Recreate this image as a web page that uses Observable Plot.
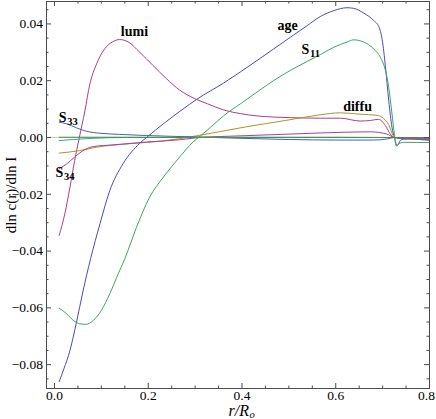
<!DOCTYPE html>
<html>
<head>
<meta charset="utf-8">
<script src="https://cdn.jsdelivr.net/npm/d3@7"></script>
<script src="https://cdn.jsdelivr.net/npm/@observablehq/plot@0.6"></script>
<style>
  html, body { margin: 0; padding: 0; background: #fff; }
  #chart { width: 436px; height: 419px; }
  #chart svg text { font-family: "Liberation Serif", "Times New Roman", serif; }
</style>
</head>
<body>
<div id="chart"></div>
<script>
// ---- data (r/R_o, dln c(r)/dln I) ----
const age = [[0.010,-0.0860],[0.020,-0.0815],[0.033,-0.0750],[0.047,-0.0650],[0.061,-0.0540],[0.077,-0.0427],[0.097,-0.0304],[0.118,-0.0187],[0.146,-0.0093],[0.182,-0.0020],[0.200,0.0005],[0.232,0.0048],[0.274,0.0100],[0.303,0.0134],[0.361,0.0192],[0.432,0.0271],[0.503,0.0353],[0.539,0.0394],[0.567,0.0426],[0.596,0.0447],[0.624,0.0457],[0.638,0.0455],[0.660,0.0438],[0.681,0.0412],[0.692,0.0390],[0.699,0.0345],[0.706,0.0250],[0.713,0.0130],[0.720,0.0036],[0.725,0.0000],[0.731,-0.0028],[0.738,-0.0010],[0.745,-0.0006],[0.800,-0.0004]];
const lumi = [[0.010,-0.0345],[0.022,-0.0269],[0.033,-0.0175],[0.043,-0.0081],[0.053,0.0000],[0.065,0.0095],[0.075,0.0185],[0.090,0.0260],[0.107,0.0312],[0.125,0.0338],[0.139,0.0345],[0.157,0.0337],[0.182,0.0300],[0.210,0.0254],[0.239,0.0207],[0.267,0.0167],[0.299,0.0137],[0.326,0.0119],[0.361,0.0097],[0.397,0.0084],[0.432,0.0076],[0.503,0.0070],[0.567,0.0068],[0.610,0.0068],[0.652,0.0058],[0.674,0.0060],[0.691,0.0064],[0.706,0.0042],[0.716,0.0013],[0.725,0.0000],[0.740,-0.0002],[0.800,-0.0010]];
const diffu = [[0.010,-0.0055],[0.054,-0.0046],[0.090,-0.0034],[0.160,-0.0022],[0.232,-0.0012],[0.303,0.0006],[0.400,0.0035],[0.500,0.0062],[0.567,0.0080],[0.610,0.0087],[0.652,0.0082],[0.688,0.0078],[0.702,0.0067],[0.713,0.0045],[0.722,0.0008],[0.725,0.0000],[0.740,-0.0003],[0.800,-0.0006]];
const s11 = [[0.010,-0.0601],[0.026,-0.0621],[0.040,-0.0644],[0.054,-0.0656],[0.067,-0.0658],[0.083,-0.0644],[0.100,-0.0609],[0.118,-0.0550],[0.136,-0.0480],[0.150,-0.0427],[0.175,-0.0316],[0.203,-0.0210],[0.232,-0.0140],[0.267,-0.0069],[0.296,-0.0015],[0.311,0.0005],[0.333,0.0036],[0.361,0.0077],[0.397,0.0119],[0.432,0.0160],[0.468,0.0201],[0.503,0.0236],[0.539,0.0268],[0.567,0.0292],[0.596,0.0318],[0.624,0.0336],[0.638,0.0344],[0.660,0.0336],[0.681,0.0312],[0.695,0.0283],[0.706,0.0236],[0.713,0.0177],[0.720,0.0083],[0.725,0.0013],[0.729,-0.0030],[0.734,-0.0022],[0.745,-0.0017],[0.800,-0.0018]];
const s33 = [[0.010,0.0054],[0.026,0.0048],[0.047,0.0034],[0.068,0.0022],[0.097,0.0015],[0.139,0.0011],[0.196,0.0007],[0.300,0.0002],[0.400,-0.0003],[0.500,-0.0007],[0.600,-0.0009],[0.680,-0.0009],[0.710,-0.0005],[0.725,0.0000],[0.740,-0.0003],[0.800,-0.0003]];
const s34 = [[0.010,-0.0110],[0.026,-0.0093],[0.043,-0.0069],[0.061,-0.0046],[0.083,-0.0032],[0.125,-0.0026],[0.196,-0.0016],[0.267,-0.0008],[0.303,-0.0001],[0.400,0.0006],[0.500,0.0012],[0.567,0.0016],[0.674,0.0020],[0.709,0.0012],[0.725,0.0000],[0.740,-0.0002],[0.800,-0.0008]];
const teal = [[0.010,-0.0011],[0.040,-0.0007],[0.080,-0.0003],[0.150,0.0000],[0.400,0.0000],[0.700,0.0000],[0.725,0.0000],[0.800,-0.0002]];
const flat = [[0.010,0.0001],[0.300,0.0001],[0.600,0.0001],[0.725,0.0000],[0.800,0.0000]];

const series = [
  {name: "age",   data: age,   color: "#4b4bb8"},
  {name: "lumi",  data: lumi,  color: "#ad3f80"},
  {name: "diffu", data: diffu, color: "#a8952e"},
  {name: "S11",   data: s11,   color: "#3fa55e"},
  {name: "S33",   data: s33,   color: "#3f66ad"},
  {name: "S34",   data: s34,   color: "#a63f9e"},
  {name: "teal",  data: teal,  color: "#3fa398"},
  {name: "flat",  data: flat,  color: "#4a8f3d"}
];

// curve labels (data coordinates)
const labels = [
  {text: "lumi",  r: 0.1706, v: 0.0357},
  {text: "age",   r: 0.4975, v: 0.0379},
  {text: "diffu", r: 0.6465, v: 0.0092}
];
const sLabels = [
  {main: "S", sub: "11", r: 0.527, v: 0.0294},
  {main: "S", sub: "33", r: 0.009, v: 0.0055},
  {main: "S", sub: "34", r: 0.002, v: -0.0140}
];

// ticks
const xMajor = [0, 0.2, 0.4, 0.6, 0.8];
const xLabelsInner = [0, 0.2, 0.4, 0.6];
const xLabelsEdge = [0.8];
const xMinor = [0.05, 0.1, 0.15, 0.25, 0.3, 0.35, 0.45, 0.5, 0.55, 0.65, 0.7, 0.75];
const yMajor = [-0.08, -0.06, -0.04, -0.02, 0, 0.02, 0.04];
const yMinor = [-0.085, -0.075, -0.07, -0.065, -0.055, -0.05, -0.045, -0.035, -0.03, -0.025, -0.015, -0.01, -0.005, 0.005, 0.01, 0.015, 0.025, 0.03, 0.035, 0.045];

const FONT = "Liberation Serif";
const W = 436, H = 419, mL = 46, mR = 7, mT = 1, mB = 31;
const ph = H - mT - mB, pw = W - mL - mR;
const frameColor = "#4a4a4a";
const fmtY = d => (d < 0 ? "\u2212" : "") + Math.abs(d).toFixed(2);
const fmtX = d => d.toFixed(1);

const marks = [
  Plot.ruleY([0], {stroke: "#c8c8c8", strokeWidth: 1}),
  ...series.map(s => Plot.line(s.data, {x: d => d[0], y: d => d[1], stroke: s.color, strokeWidth: 1, curve: "monotone-x"})),
  // inward ticks on all four sides
  Plot.ruleX(xMajor, {x: d => d, insetTop: ph - 5, stroke: frameColor}),
  Plot.ruleX(xMajor, {x: d => d, insetBottom: ph - 5, stroke: frameColor}),
  Plot.ruleX(xMinor, {x: d => d, insetTop: ph - 2.5, stroke: frameColor}),
  Plot.ruleX(xMinor, {x: d => d, insetBottom: ph - 2.5, stroke: frameColor}),
  Plot.ruleY(yMajor, {y: d => d, insetRight: pw - 5, stroke: frameColor}),
  Plot.ruleY(yMajor, {y: d => d, insetLeft: pw - 5, stroke: frameColor}),
  Plot.ruleY(yMinor, {y: d => d, insetRight: pw - 2.5, stroke: frameColor}),
  Plot.ruleY(yMinor, {y: d => d, insetLeft: pw - 2.5, stroke: frameColor}),
  Plot.frame({stroke: frameColor, strokeWidth: 1}),
  Plot.axisX({ticks: xLabelsInner, tickSize: 0, tickPadding: 2, tickFormat: fmtX, fontSize: 13.5, fontFamily: FONT, label: null, fill: "#000"}),
  Plot.axisX({ticks: xLabelsEdge, tickSize: 0, tickPadding: 2, tickFormat: fmtX, fontSize: 13.5, fontFamily: FONT, label: null, fill: "#000", dx: -3}),
  Plot.axisY({ticks: yMajor, tickSize: 0, tickPadding: 3.5, tickFormat: fmtY, fontSize: 13.5, fontFamily: FONT, fill: "#000",
              label: null}),
  // y axis title
  Plot.text(["dln c(r)/dln I"], {frameAnchor: "left", rotate: -90, dx: -41, textAnchor: "middle", lineAnchor: "top", fontSize: 15, fontFamily: FONT, fill: "#000"}),
  // curve labels
  Plot.text(labels, {x: "r", y: "v", text: "text", fontWeight: "bold", fontSize: 14, fontFamily: FONT, textAnchor: "middle", lineAnchor: "bottom", fill: "#000"}),
  Plot.text(sLabels, {x: "r", y: "v", text: "main", fontWeight: "bold", fontSize: 14, fontFamily: FONT, textAnchor: "start", lineAnchor: "bottom", fill: "#000"}),
  Plot.text(sLabels, {x: "r", y: "v", text: "sub", fontWeight: "bold", fontSize: 10.5, fontFamily: FONT, textAnchor: "start", lineAnchor: "bottom", dx: 8.5, dy: 3, fill: "#000"}),
  // x axis title r/R_o
  Plot.text(["r/R"], {frameAnchor: "bottom", dx: 11, dy: 27.5, textAnchor: "end", lineAnchor: "bottom", fontStyle: "italic", fontSize: 16, fontFamily: FONT, fill: "#000"}),
  Plot.text(["o"], {frameAnchor: "bottom", dx: 11.5, dy: 29.5, textAnchor: "start", lineAnchor: "bottom", fontStyle: "italic", fontSize: 10.5, fontFamily: FONT, fill: "#000"})
];

const chart = Plot.plot({
  width: W, height: H,
  marginLeft: mL, marginRight: mR, marginTop: mT, marginBottom: mB,
  x: {domain: [-0.01706, 0.8]},
  y: {domain: [-0.0884, 0.0479]},
  style: {fontFamily: FONT, fontSize: "14px", background: "#fff", color: "#000"},
  marks
});
document.getElementById("chart").appendChild(chart);
</script>
</body>
</html>
